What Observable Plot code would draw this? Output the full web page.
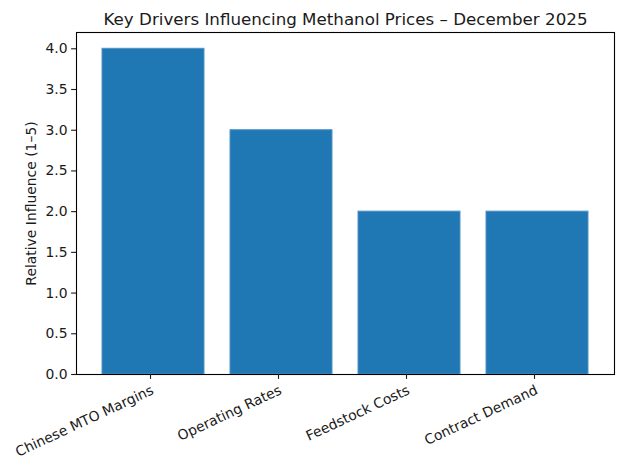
<!DOCTYPE html>
<html>
<head>
<meta charset="utf-8">
<script src="https://cdn.jsdelivr.net/npm/d3@7"></script>
<script src="https://cdn.jsdelivr.net/npm/@observablehq/plot@0.6"></script>
<style>
  html, body { margin: 0; padding: 0; background: #fff; }
  svg { font-family: "DejaVu Sans", sans-serif; }
</style>
</head>
<body>
<div id="chart"></div>
<script>
const title = "Key Drivers Influencing Methanol Prices \u2013 December 2025";
const yLabel = "Relative Influence (1\u20135)";
const drivers = ["Chinese MTO Margins", "Operating Rates", "Feedstock Costs", "Contract Demand"];
const influence = [4, 3, 2, 2];
const yTicks = [0, 0.5, 1, 1.5, 2, 2.5, 3, 3.5, 4];

const data = drivers.map((d, i) => ({driver: d, value: influence[i]}));

const chart = Plot.plot({
  width: 624,
  height: 470,
  marginLeft: 76,
  marginRight: 10,
  marginTop: 32,
  marginBottom: 96,
  style: {fontFamily: "DejaVu Sans, sans-serif", fontSize: "13.9px", color: "#1a1a1a", background: "#fff"},
  x: {domain: drivers, paddingInner: 0.2, paddingOuter: 0.19},
  y: {domain: [0, 4.2]},
  marks: [
    Plot.barY(data, {x: "driver", y: "value", fill: "#1f77b4", stroke: "#4f94ca", strokeWidth: 1}),
    Plot.frame({stroke: "#000", strokeWidth: 1.1}),
    Plot.axisY({
      ticks: yTicks, tickFormat: d3.format(".1f"), tickSize: 4.9, tickPadding: 4,
      label: yLabel, labelAnchor: "center", labelArrow: false, labelOffset: 50,
      fontSize: 13.9, strokeWidth: 1.1
    }),
    Plot.axisX({
      tickSize: 4.9, tickPadding: 5, tickRotate: -25,
      textAnchor: "end", lineAnchor: "top", label: null, dx: -3,
      fontSize: 13.9, strokeWidth: 1.1
    }),
    Plot.text([title], {
      frameAnchor: "top", text: d => d, lineAnchor: "bottom", dy: -8,
      fontSize: 16.7, fill: "#1a1a1a"
    })
  ]
});
document.getElementById("chart").appendChild(chart);
</script>
</body>
</html>
